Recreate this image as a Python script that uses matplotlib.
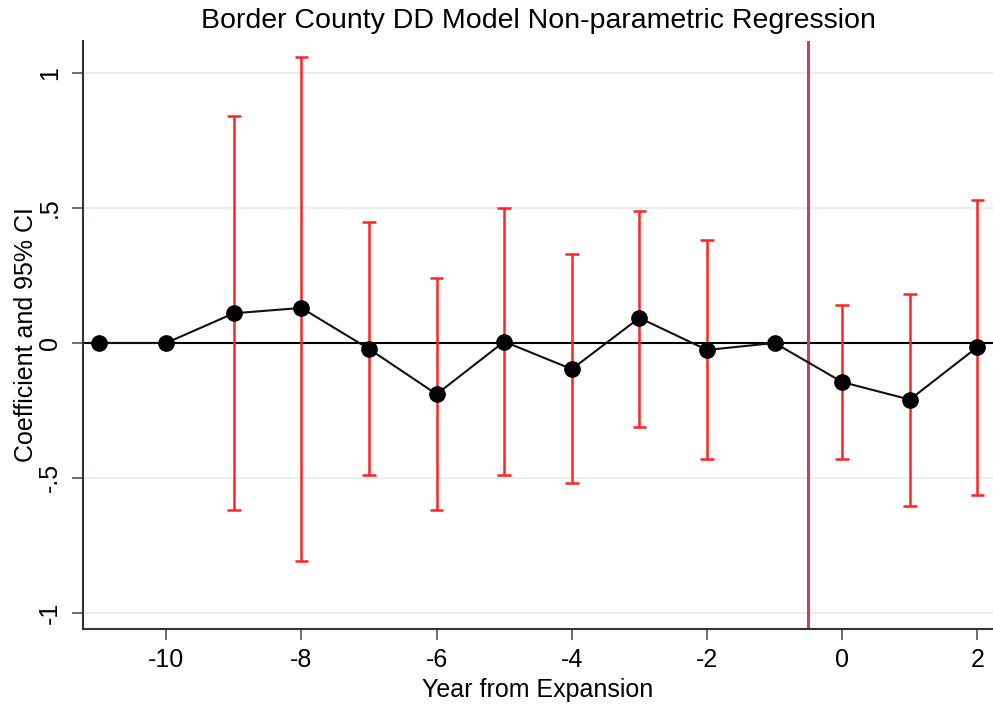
import matplotlib
matplotlib.use("Agg")
import matplotlib.pyplot as plt
import numpy as np

years = [-11, -10, -9, -8, -7, -6, -5, -4, -3, -2, -1, 0, 1, 2]
coef = [0.0, 0.0, 0.11, 0.13, -0.022, -0.19, 0.005, -0.097, 0.093, -0.026, 0.0, -0.145, -0.21, -0.015]
ci_lo = [np.nan, np.nan, -0.62, -0.81, -0.49, -0.62, -0.49, -0.52, -0.31, -0.43, np.nan, -0.43, -0.605, -0.565]
ci_hi = [np.nan, np.nan, 0.84, 1.06, 0.45, 0.24, 0.50, 0.33, 0.49, 0.38, np.nan, 0.14, 0.18, 0.53]
yticks = [-1, -0.5, 0, 0.5, 1]
ytick_labels = ["-1", "-.5", "0", ".5", "1"]
xticks = [-10, -8, -6, -4, -2, 0, 2]
event_line = -0.5

plt.rcParams['font.family'] = ['Liberation Sans', 'DejaVu Sans']

fig = plt.figure(figsize=(9.93, 7.05), dpi=100)
ax = fig.add_axes([0.0836, 0.108, 0.9164, 0.834])

for yv in yticks:
    ax.axhline(yv, color='#e6efef', lw=1.5, zorder=0)
ax.axhline(0, color='black', lw=1.5, zorder=1)
ax.axvline(event_line, color='#d43a5a', lw=2.2, zorder=1)

for x, lo, hi in zip(years, ci_lo, ci_hi):
    if np.isnan(lo):
        continue
    ax.vlines(x, lo, hi, color='#ff2424', lw=1.8, zorder=2)
    ax.hlines([lo, hi], x - 0.1, x + 0.1, color='#ff2424', lw=1.8, zorder=2)

ax.plot(years, coef, color='#111111', lw=1.5, marker='o', markersize=11,
        markerfacecolor='black', markeredgecolor='black', zorder=3)

ax.set_xlim(-11.23, 2.23)
ax.set_ylim(-1.06, 1.12)
ax.set_xticks(xticks)
ax.set_xticklabels([str(v) for v in xticks])
ax.set_yticks(yticks)
ax.set_yticklabels(ytick_labels, rotation=90, va='center')

for s in ['top', 'right']:
    ax.spines[s].set_visible(False)
for s in ['left', 'bottom']:
    ax.spines[s].set_color('#333333')
    ax.spines[s].set_linewidth(1.5)

ax.tick_params(axis='both', length=8, width=1.2, color='#555555', labelsize=18)
ax.tick_params(axis='x', pad=6)
ax.tick_params(axis='y', pad=7)

ax.set_title("Border County DD Model Non-parametric Regression", fontsize=20.5, pad=9)
ax.set_xlabel("Year from Expansion", fontsize=18, labelpad=4)
ax.set_ylabel("Coefficient and 95% CI", fontsize=18)
ax.yaxis.set_label_coords(-0.05, 0.5)

fig.savefig("out.png", dpi=100)
